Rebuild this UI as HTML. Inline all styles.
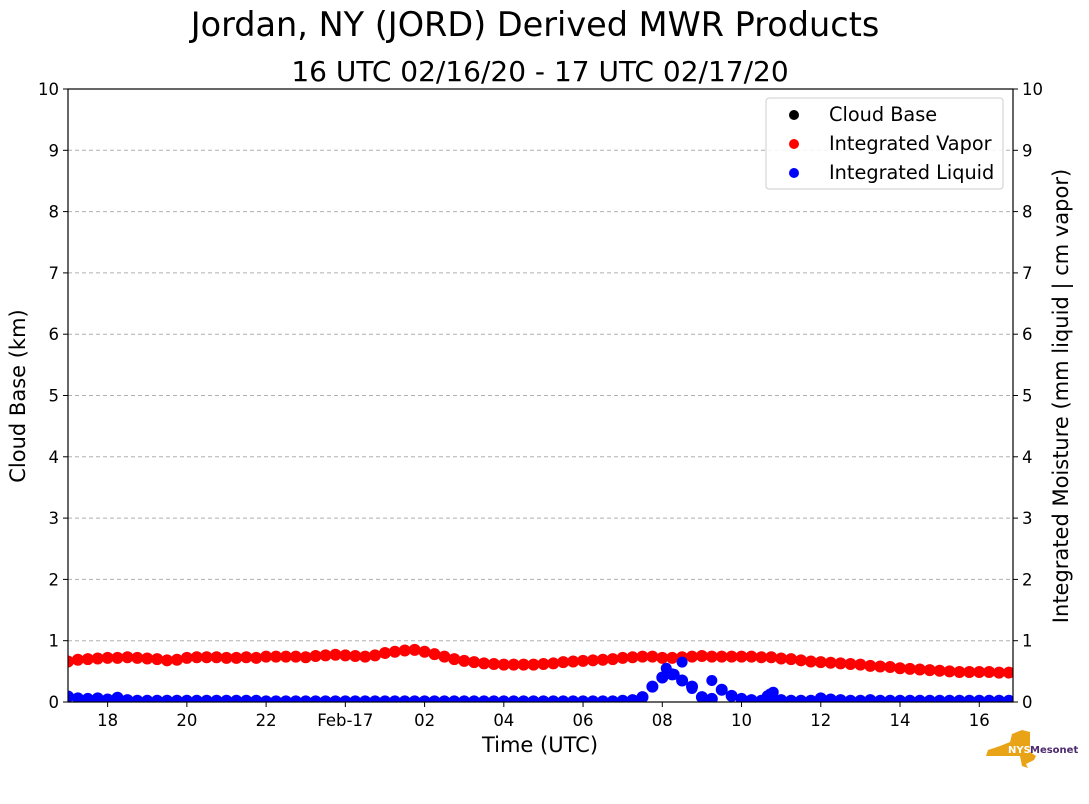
<!DOCTYPE html>
<html><head><meta charset="utf-8"><style>
body{margin:0;background:#fff;}
svg{display:block;font-family:"DejaVu Sans","Liberation Sans",sans-serif;}
</style></head><body>
<svg id="c" width="1089" height="804">
<text x="535" y="36" font-size="33.5" text-anchor="middle">Jordan, NY (JORD) Derived MWR Products</text>
<text x="540" y="81" font-size="28" text-anchor="middle">16 UTC 02/16/20 - 17 UTC 02/17/20</text>
<defs><clipPath id="pc"><rect x="68" y="89" width="945" height="613"/></clipPath></defs>
<g id="grid"></g>
<g id="marks" clip-path="url(#pc)"></g>
<rect x="68" y="89" width="945" height="613" fill="none" stroke="#000" stroke-width="1.2"/>
<g id="axes"></g>
<text transform="translate(25,396) rotate(-90)" font-size="21" text-anchor="middle">Cloud Base (km)</text>
<text transform="translate(1068,396) rotate(-90)" font-size="21" text-anchor="middle">Integrated Moisture (mm liquid | cm vapor)</text>
<text x="540" y="752" font-size="21" text-anchor="middle">Time (UTC)</text>
<g>
<rect x="766" y="98" width="237" height="91" rx="3" fill="#fff" fill-opacity="0.85" stroke="#ccc"/>
<circle cx="794" cy="115" r="5" fill="#000"/><text x="829" y="121" font-size="19.3">Cloud Base</text>
<circle cx="794" cy="144" r="5" fill="#f00"/><text x="829" y="150" font-size="19.3">Integrated Vapor</text>
<circle cx="794" cy="173" r="5" fill="#00f"/><text x="829" y="179" font-size="19.3">Integrated Liquid</text>
</g>
<g>
<path d="M1000 746 L1010 742 L1012 734 L1022 730 L1030 732 L1030 752 L1036 756 L1034 760 L1026 764 L1028 768 L1022 766 L1020 756 L986 756 L988 750 Z" fill="#e8a317"/>
<text x="1008" y="753" font-size="10" font-weight="bold" fill="#fff">NYS</text>
<text x="1030" y="753" font-size="10" font-weight="bold" fill="#4b2a6e">Mesonet</text>
</g>
</svg>
<script>
const yTicks=[0,1,2,3,4,5,6,7,8,9,10];
const xTickHours=[1,3,5,7,9,11,13,15,17,19,21,23];
const xTickLabels=["18","20","22","Feb-17","02","04","06","08","10","12","14","16"];
// hours since 17 UTC, 15-min steps
const vaporValues=[
.66,.69,.70,.71, .72,.72,.73,.72, .71,.70,.68,.69,
.72,.73,.73,.73, .72,.72,.73,.72, .74,.74,.74,.74, .73,.75,.76,.77,
.76,.75,.74,.76, .80,.82,.84,.85, .82,.78,.74,.70, .67,.65,.63,.62,
.61,.61,.61,.61, .62,.63,.65,.66, .67,.68,.69,.70, .72,.73,.74,.74,
.72,.72,.73,.74, .75,.74,.74,.74, .74,.74,.73,.73, .71,.70,.68,.66,
.65,.64,.63,.62, .61,.59,.58,.57, .55,.54,.53,.52, .51,.50,.49,.49,
.49,.49,.48,.48];
const liquidValues=[
.09,.06,.05,.06, .04,.07,.03,.02, .02,.02,.02,.02,
.02,.02,.02,.02, .02,.02,.02,.02, .01,.01,.01,.01, .01,.01,.01,.01,
.01,.01,.01,.01, .01,.01,.01,.01, .01,.01,.01,.01, .01,.01,.01,.01,
.01,.01,.01,.01, .01,.01,.01,.01, .01,.01,.01,.01, .02,.03,.08,.25,
.40,.45,.35,.25, .08,.05,.20,.10, .05,.03,.02,.08, .03,.02,.02,.02,
.06,.04,.03,.02, .02,.03,.02,.02, .02,.02,.02,.02, .02,.02,.02,.02,
.02,.02,.02,.02];
const liquidExtraHours=[15.1,15.3,15.5,15.75,16.25,17.8,17.65,17.72];
const liquidExtraValues=[.55,.45,.65,.22,.35,.16,.10,.13];
const NS='http://www.w3.org/2000/svg';
const x0=68,x1=1013,y0=702,y1=89,hourPx=39.62;
const X=h=>x0+h*hourPx;
const Y=v=>y0-(v/10)*(y0-y1);
function mk(tag,at,parent){const e=document.createElementNS(NS,tag);for(const k in at)e.setAttribute(k,at[k]);parent.appendChild(e);return e;}
const grid=document.getElementById('grid'),axes=document.getElementById('axes'),marks=document.getElementById('marks');
yTicks.forEach(v=>{
  if(v>0&&v<10){const g=mk('line',{x1:x0,x2:x1,y1:Y(v),y2:Y(v),stroke:'#b0b0b0','stroke-dasharray':'4,3'},grid);
  
  }
  const l=mk('line',{x1:x0-5,x2:x0,y1:Y(v),y2:Y(v),stroke:'#000'},axes);
  
  
  const r=mk('line',{x1:x1,x2:x1+5,y1:Y(v),y2:Y(v),stroke:'#000'},axes);
  
  
  const t=mk('text',{x:x0-9,y:Y(v)+6,'font-size':16.5,'text-anchor':'end'},axes);t.textContent=v;
  
  
  const t2=mk('text',{x:x1+9,y:Y(v)+6,'font-size':16.5},axes);t2.textContent=v;
  
  
});
xTickHours.forEach((h,i)=>{
  const l=mk('line',{x1:X(h),x2:X(h),y1:y0,y2:y0+5,stroke:'#000'},axes);
  
  
  const t=mk('text',{x:X(h),y:y0+24,'font-size':16.5,'text-anchor':'middle'},axes);t.textContent=xTickLabels[i];
  
  
});
vaporValues.forEach((v,i)=>{
  const c=mk('circle',{cx:X(i*0.25),cy:Y(v),r:6,fill:'#f00'},marks);
  
  
});
liquidValues.forEach((v,i)=>{
  const c=mk('circle',{cx:X(i*0.25),cy:Y(v),r:6,fill:'#00f'},marks);
  
  
});
liquidExtraHours.forEach((h,i)=>{
  const c=mk('circle',{cx:X(h),cy:Y(liquidExtraValues[i]),r:5.5,fill:'#00f'},marks);
  
  
});
</script>
</body></html>
